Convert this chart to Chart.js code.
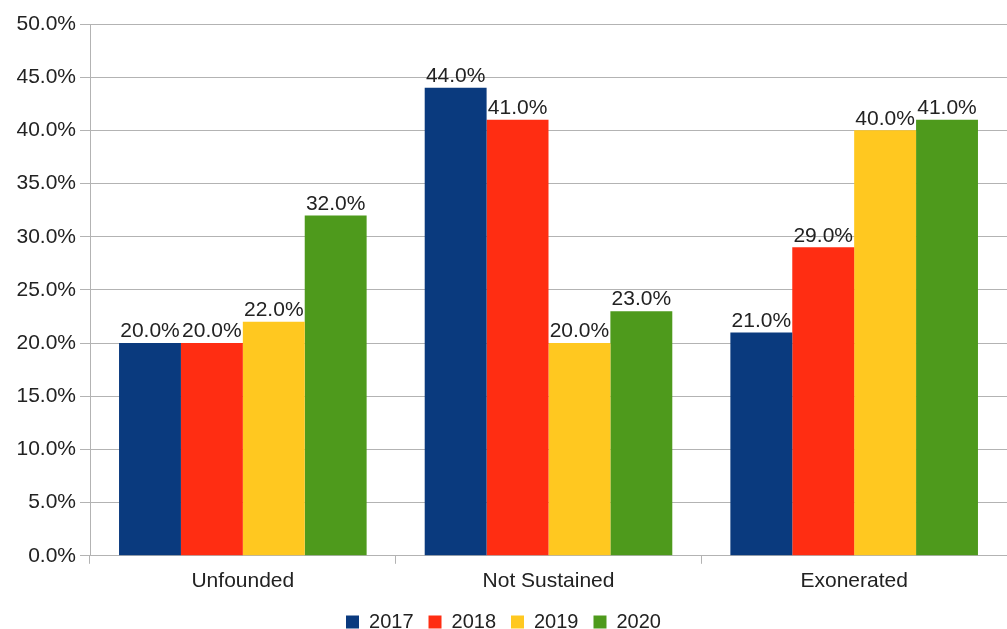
<!DOCTYPE html>
<html>
<head>
<meta charset="utf-8">
<script src="https://cdn.jsdelivr.net/npm/chart.js@4/dist/chart.umd.min.js"></script>
<style>
  html, body { margin: 0; padding: 0; background: #fff; }
  #wrap { width: 1007px; height: 629px; }
</style>
</head>
<body>
<div id="wrap"><canvas id="chart"></canvas></div>
<script>
const categories = ['Unfounded', 'Not Sustained', 'Exonerated'];
const years = ['2017', '2018', '2019', '2020'];
const pct2017 = [20, 44, 21];
const pct2018 = [20, 41, 29];
const pct2019 = [22, 20, 40];
const pct2020 = [32, 23, 41];
const yearColors = ['#0a3a7e', '#ff2d12', '#ffc820', '#4e9a1c'];

const fontFamily = '"Liberation Sans", Arial, sans-serif';

// value labels above each bar
const barValues = {
  id: 'barValues',
  afterDatasetsDraw(chart) {
    const ctx = chart.ctx;
    ctx.save();
    ctx.font = '21px ' + fontFamily;
    ctx.fillStyle = '#222';
    ctx.textAlign = 'center';
    ctx.textBaseline = 'bottom';
    chart.data.datasets.forEach((ds, i) => {
      chart.getDatasetMeta(i).data.forEach((bar, j) => {
        ctx.fillText(ds.data[j].toFixed(1) + '%', bar.x, bar.y - 1);
      });
    });
    ctx.restore();
  }
};

const seriesData = [pct2017, pct2018, pct2019, pct2020];

new Chart(document.getElementById('chart'), {
  type: 'bar',
  data: {
    labels: categories,
    datasets: years.map((y, i) => ({
      label: y,
      data: seriesData[i],
      backgroundColor: yearColors[i],
      borderWidth: 0
    }))
  },
  options: {
    responsive: true,
    maintainAspectRatio: false,
    animation: false,
    categoryPercentage: 0.81,
    barPercentage: 1,
    layout: { padding: { top: 24, right: 0, left: 0, bottom: -13 } },
    plugins: {
      legend: {
        position: 'bottom',
        labels: {
          boxWidth: 13,
          boxHeight: 13,
          padding: 15,
          color: '#222',
          font: { family: fontFamily, size: 20 }
        }
      },
      tooltip: { enabled: false }
    },
    scales: {
      x: {
        afterFit(scale) { scale.height -= 2; },
        grid: {
          drawOnChartArea: false,
          tickLength: 8,
          color: '#b3b3b3'
        },
        border: { color: '#b3b3b3' },
        ticks: {
          color: '#222',
          padding: 5,
          font: { family: fontFamily, size: 21 }
        }
      },
      y: {
        min: 0,
        max: 50,
        afterFit(scale) { scale.width = 90; },
        grid: {
          color: '#b3b3b3',
          tickLength: 10
        },
        border: { color: '#b3b3b3' },
        ticks: {
          stepSize: 5,
          color: '#222',
          padding: 4,
          font: { family: fontFamily, size: 21 },
          callback: v => v.toFixed(1) + '%'
        }
      }
    }
  },
  plugins: [barValues]
});
</script>
</body>
</html>
